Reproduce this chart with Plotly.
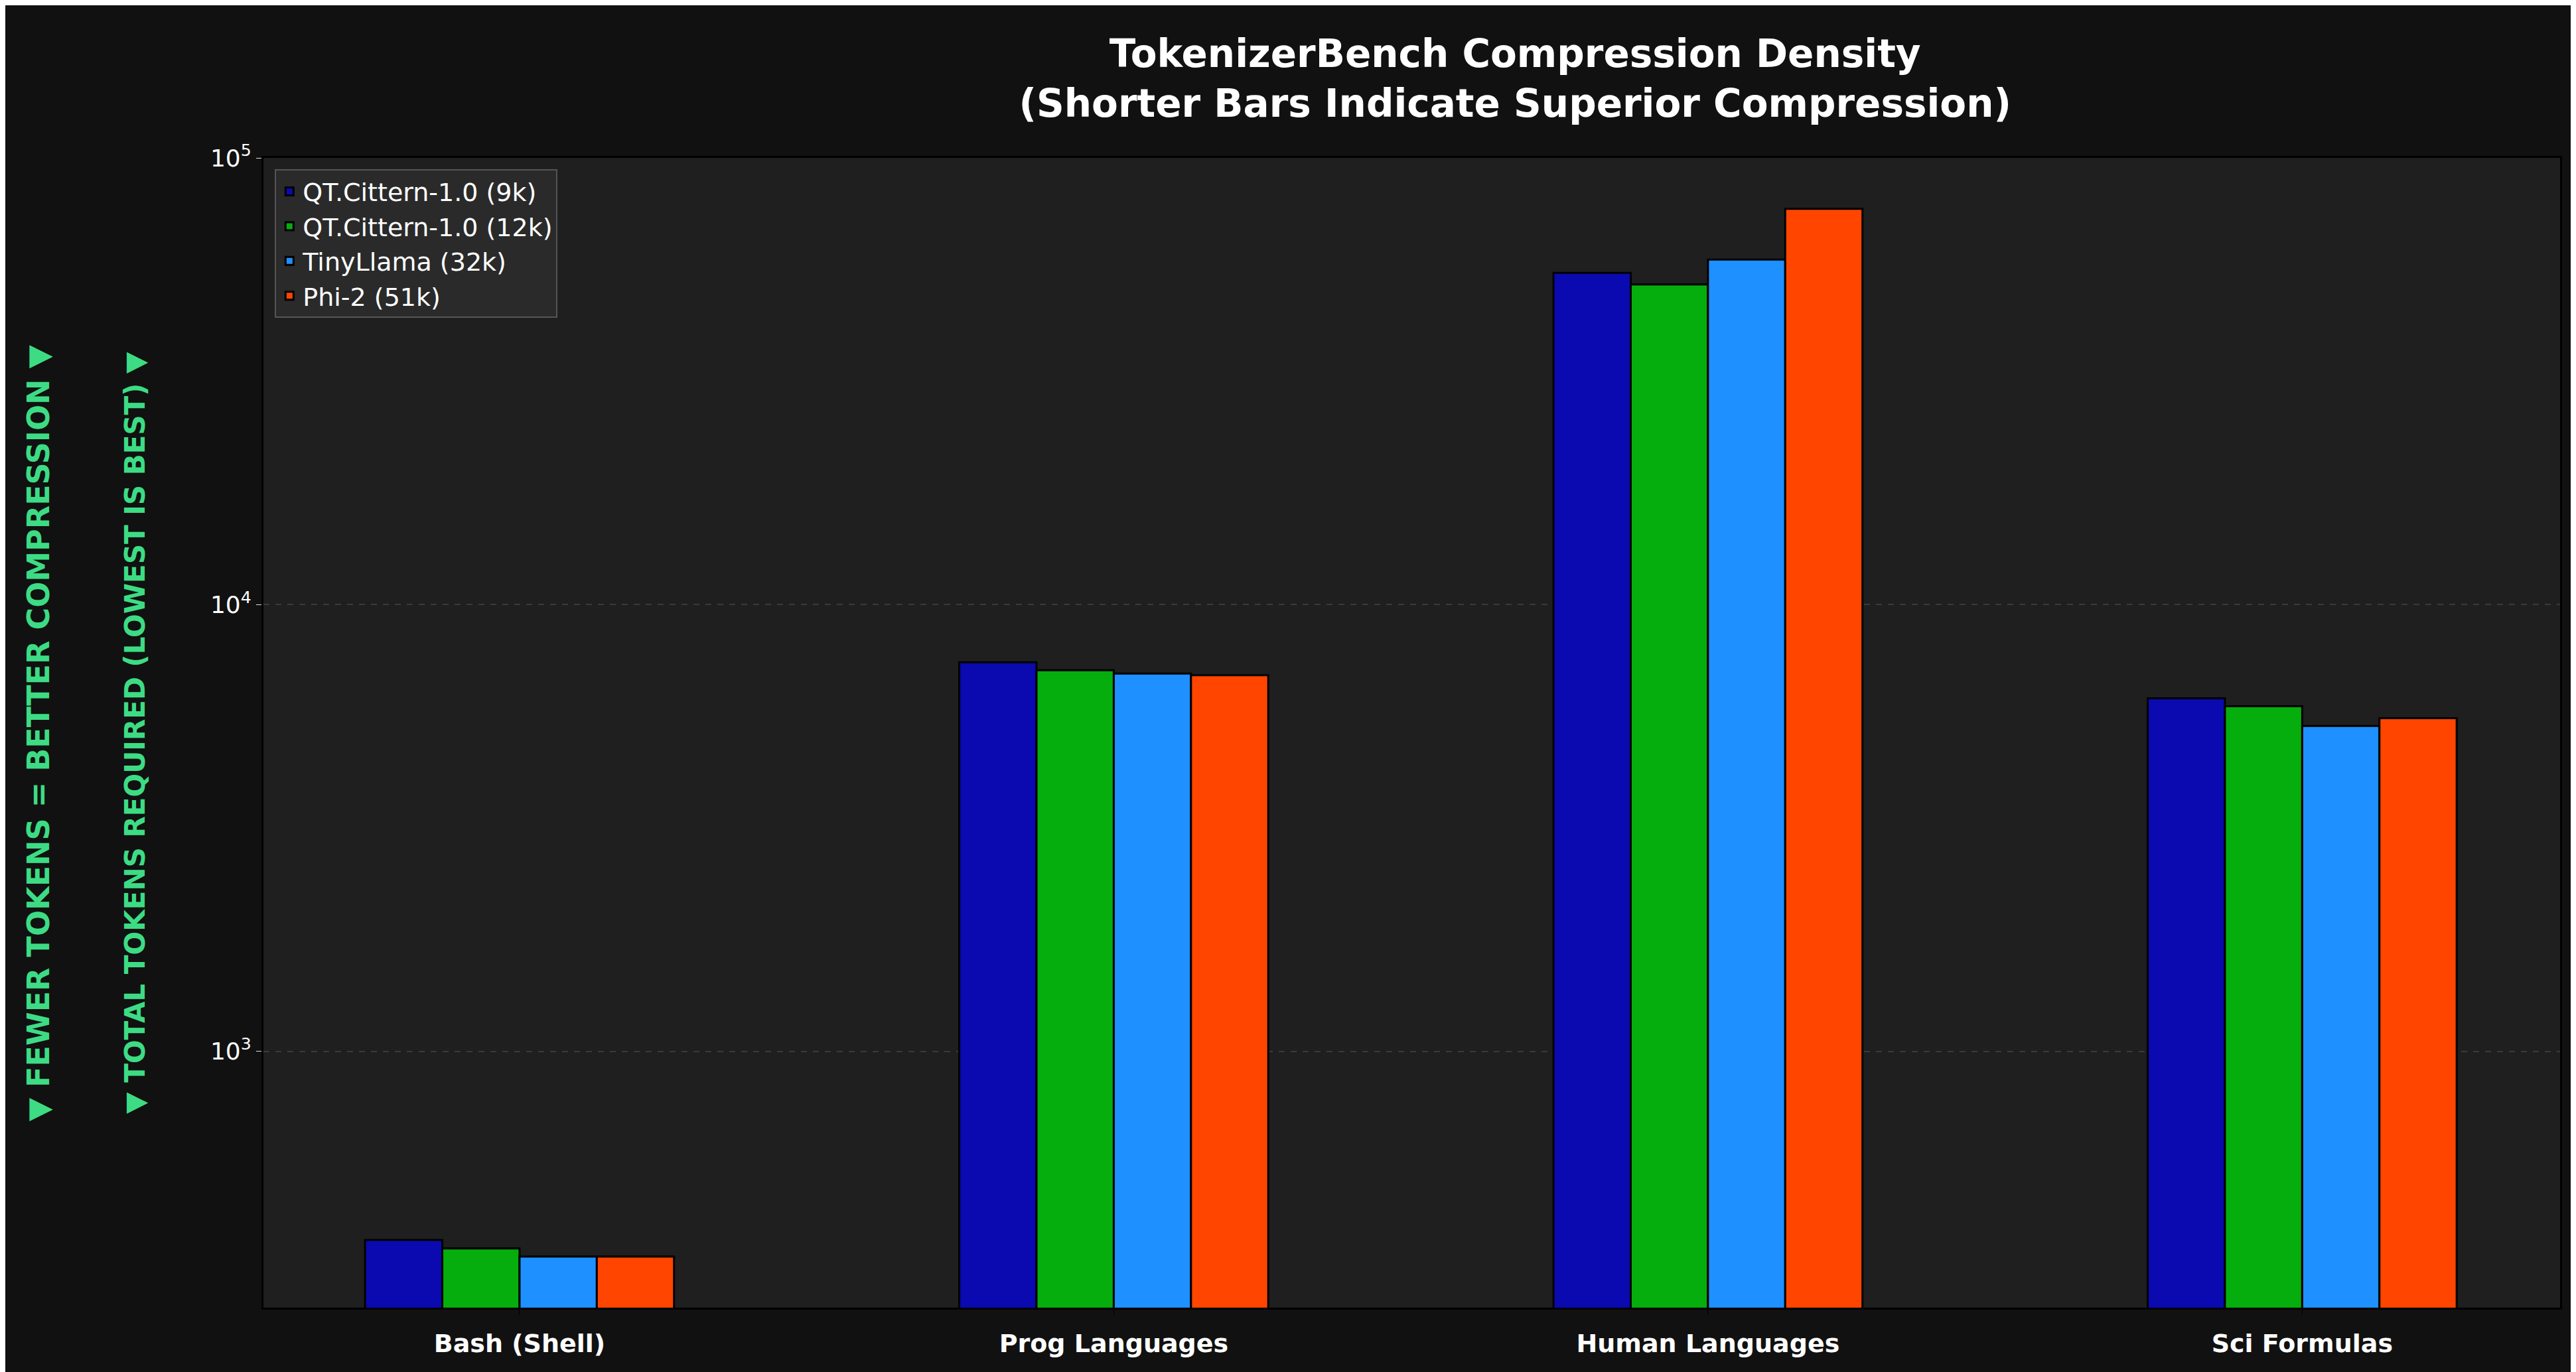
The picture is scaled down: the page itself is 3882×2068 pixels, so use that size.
import plotly.graph_objects as go

categories = ["Bash (Shell)", "Prog Languages", "Human Languages", "Sci Formulas"]
series_names = ["QT.Cittern-1.0 (9k)", "QT.Cittern-1.0 (12k)", "TinyLlama (32k)", "Phi-2 (51k)"]
v_9k = [378, 7430, 55300, 6170]
v_12k = [362, 7130, 52100, 5920]
v_32k = [347, 7010, 59200, 5350]
v_51k = [347, 6950, 76900, 5570]
colors = ["#0a0ab0", "#05ad0d", "#1e90ff", "#ff4500"]
tick_vals = [1000, 10000, 100000]
tick_text = ["10<sup>3</sup>", "10<sup>4</sup>", "10<sup>5</sup>"]

fig = go.Figure()
for name, vals, c in zip(series_names, [v_9k, v_12k, v_32k, v_51k], colors):
    fig.add_trace(go.Bar(x=categories, y=vals, name=name, marker_color=c,
                         marker_line_color="#000000", marker_line_width=3))

fig.update_layout(
    width=3882, height=2068, barmode="group", bargap=0.48, bargroupgap=0,
    paper_bgcolor="#111111", plot_bgcolor="#1f1f1f",
    margin=dict(l=389, r=32, t=230, b=105),
    font=dict(family="DejaVu Sans", color="white", size=36),
    title=dict(text="<b>TokenizerBench Compression Density<br>(Shorter Bars Indicate Superior Compression)</b>",
               x=0.545, xanchor="center", xref="paper", y=0.955, yref="container", yanchor="middle",
               font=dict(size=58, color="white")),
    legend=dict(x=0.005, y=0.99, xanchor="left", yanchor="top", bgcolor="#2a2a2a",
                bordercolor="#555555", borderwidth=2, font=dict(size=38, color="white"),
                tracegroupgap=4),
    xaxis=dict(tickfont=dict(size=38, color="white", family="DejaVu Sans"), ticklabelstandoff=10,
               range=[-0.431, 3.434],
               showline=True, linecolor="#000000", linewidth=3, mirror=True, ticks="outside", ticklen=8,
               tickcolor="#000000", tickprefix="<b>", ticksuffix="</b>"),
    yaxis=dict(type="log", range=[2.426, 5], tickvals=tick_vals, ticktext=tick_text,
               tickfont=dict(size=36, color="white"), showgrid=True, gridcolor="#3a3a3a",
               griddash="dash", gridwidth=2, showline=True, linecolor="#000000", linewidth=3,
               mirror=True, ticks="outside", ticklen=8, tickcolor="#dddddd", zeroline=False),
)
fig.add_annotation(text="<b>▼ FEWER TOKENS = BETTER COMPRESSION ▼</b>", textangle=-90,
                   xref="paper", yref="paper", x=-0.098, y=0.5, xanchor="center", yanchor="middle",
                   showarrow=False, font=dict(size=46, color="#3ddc84"))
fig.add_annotation(text="<b>▼ TOTAL TOKENS REQUIRED (LOWEST IS BEST) ▼</b>", textangle=-90,
                   xref="paper", yref="paper", x=-0.056, y=0.5, xanchor="center", yanchor="middle",
                   showarrow=False, font=dict(size=42, color="#3ddc84"))
fig.write_html("out.html")
